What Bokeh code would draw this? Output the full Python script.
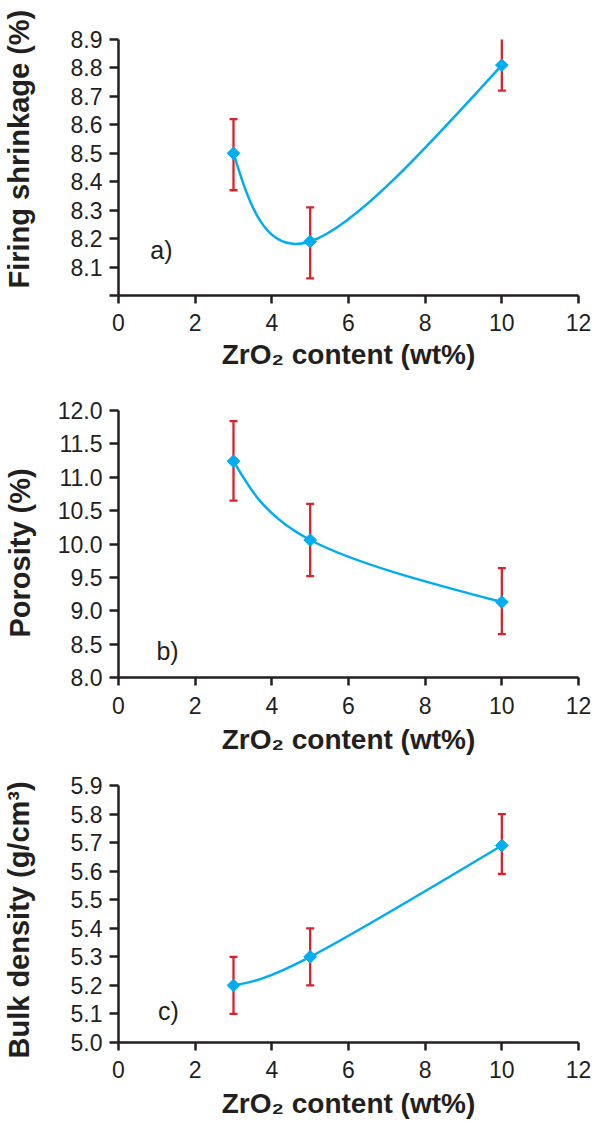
import numpy as np
from bokeh.plotting import figure
from bokeh.models import (FixedTicker, NumeralTickFormatter, Whisker, TeeHead,
                          ColumnDataSource, Label, Range1d, Title)
from bokeh.layouts import column
from bokeh.embed import file_html
from bokeh.resources import INLINE

# ---------------- data ----------------
zro2_content = [3, 5, 10]

shrinkage = [8.50, 8.19, 8.81]
shrinkage_upper = [8.62, 8.31, 8.92]
shrinkage_lower = [8.37, 8.06, 8.72]

porosity = [11.24, 10.06, 9.13]
porosity_upper = [11.84, 10.60, 9.64]
porosity_lower = [10.65, 9.52, 8.65]

density = [5.20, 5.30, 5.69]
density_upper = [5.30, 5.40, 5.80]
density_lower = [5.10, 5.20, 5.59]

x_ticks = [0, 2, 4, 6, 8, 10, 12]
shrink_ticks = [8.0, 8.1, 8.2, 8.3, 8.4, 8.5, 8.6, 8.7, 8.8, 8.9]
poro_ticks = [8.0, 8.5, 9.0, 9.5, 10.0, 10.5, 11.0, 11.5, 12.0]
dens_ticks = [5.0, 5.1, 5.2, 5.3, 5.4, 5.5, 5.6, 5.7, 5.8, 5.9]

X_TITLE = "ZrO\u2082 content (wt%)"

# ---------------- style ----------------
FONT = "Liberation Sans"
INK = "#231f20"
BLUE = "#00aeef"
RED = "#d7232a"

W = 597
LEFT = 118
RIGHT = 19


def smooth_controls(xs, ys):
    """Catmull-Rom style cubic Bezier controls for a smoothed line."""
    P = np.column_stack([np.asarray(xs, float), np.asarray(ys, float)])
    n = len(P)
    after = [None] * n
    before = [None] * n
    for i in range(1, n - 1):
        T = (P[i + 1] - P[i - 1]) / 2.0
        before[i] = P[i] - T / 3.0
        after[i] = P[i] + T / 3.0
    after[0] = P[0] + (before[1] - P[0]) / 2.0
    before[n - 1] = P[n - 1] + (after[n - 2] - P[n - 1]) / 2.0
    segs = dict(x0=[], y0=[], x1=[], y1=[], cx0=[], cy0=[], cx1=[], cy1=[])
    for i in range(n - 1):
        segs["x0"].append(P[i][0]); segs["y0"].append(P[i][1])
        segs["x1"].append(P[i + 1][0]); segs["y1"].append(P[i + 1][1])
        segs["cx0"].append(after[i][0]); segs["cy0"].append(after[i][1])
        segs["cx1"].append(before[i + 1][0]); segs["cy1"].append(before[i + 1][1])
    return segs


def panel(ys, upper, lower, yrange, yticks, ylabel, tag, tag_xy, g):
    p = figure(width=W, height=g["h"], x_range=Range1d(0, 12),
               y_range=Range1d(*yrange), output_backend="svg",
               toolbar_location=None, min_border_left=LEFT,
               min_border_right=RIGHT, min_border_top=g["t"],
               min_border_bottom=g["b"])
    try:
        p.frame_align = False
    except Exception:
        pass
    p.outline_line_color = None
    p.grid.visible = False
    p.background_fill_color = "white"
    p.border_fill_color = "white"

    for ax in (p.xaxis[0], p.yaxis[0]):
        ax.axis_line_color = INK
        ax.axis_line_width = 2.5
        ax.major_tick_line_color = INK
        ax.major_tick_line_width = 2.5
        ax.major_tick_in = 0
        ax.minor_tick_line_color = None
        ax.major_label_text_font = FONT
        ax.major_label_text_font_size = "23px"
        ax.major_label_text_color = INK

    xa = p.xaxis[0]
    xa.ticker = FixedTicker(ticks=x_ticks)
    xa.major_tick_out = 8
    xa.major_label_standoff = g["xls"]
    xa.axis_label = X_TITLE
    xa.axis_label_text_font = FONT
    xa.axis_label_text_font_style = "bold"
    xa.axis_label_text_color = INK
    xa.axis_label_text_font_size = "28px"
    xa.axis_label_standoff = g["xts"]

    ya = p.yaxis[0]
    ya.ticker = FixedTicker(ticks=yticks)
    ya.formatter = NumeralTickFormatter(format="0.0")
    ya.major_tick_out = 9
    ya.major_label_standoff = 7
    # blank spacer label: pushes the title further out from the tick labels
    ya.axis_label = " "
    ya.axis_label_text_font_size = "1px"
    ya.axis_label_standoff = g["gap"]
    if g.get("hide_first"):
        ya.major_label_overrides = {yticks[0]: ""}

    # vertical title on the left, offset upward from the frame bottom
    p.add_layout(Title(text=ylabel, align="left", offset=g["yoff"],
                       standoff=0, text_font=FONT,
                       text_font_style="bold", text_font_size="29px",
                       text_color=INK), "left")

    err = ColumnDataSource(dict(x=zro2_content, upper=upper, lower=lower))
    w = Whisker(base="x", upper="upper", lower="lower", source=err,
                dimension="height", line_color=RED, line_width=2.3,
                level="underlay",
                upper_head=TeeHead(size=8, line_color=RED, line_width=2.3),
                lower_head=TeeHead(size=8, line_color=RED, line_width=2.3))
    p.add_layout(w)

    segs = smooth_controls(zro2_content, ys)
    p.bezier(source=ColumnDataSource(segs), x0="x0", y0="y0", x1="x1", y1="y1",
             cx0="cx0", cy0="cy0", cx1="cx1", cy1="cy1",
             line_color=BLUE, line_width=2.5)
    p.scatter(zro2_content, ys, marker="square", angle=np.pi / 4, size=9,
              fill_color=BLUE, line_color=BLUE)

    p.add_layout(Label(x=tag_xy[0], y=tag_xy[1], text=tag, text_font=FONT,
                       text_font_size="25px", text_color=INK,
                       text_baseline="alphabetic"))
    return p


# g: h = height, t/b = top/bottom borders, yoff = y-title offset, gap = spacer
pa = panel(shrinkage, shrinkage_upper, shrinkage_lower, (8.0, 8.9), shrink_ticks,
           "Firing shrinkage (%)", "a)", (0.83, 8.16),
           dict(h=385, t=39, b=90, xls=10, xts=5, yoff=7, gap=29,
                hide_first=True))
pb = panel(porosity, porosity_upper, porosity_lower, (8.0, 12.0), poro_ticks,
           "Porosity (%)", "b)", (0.99, 8.4),
           dict(h=375, t=25, b=83, xls=11, xts=7, yoff=40, gap=15))
pc = panel(density, density_upper, density_lower, (5.0, 5.9), dens_ticks,
           "Bulk density (g/cm\u00b3)", "c)", (1.03, 5.11),
           dict(h=364, t=25, b=82, xls=10, xts=7, yoff=-16, gap=29))

layout = column(pa, pb, pc, spacing=0)
open("out.html", "w").write(file_html(layout, INLINE))
